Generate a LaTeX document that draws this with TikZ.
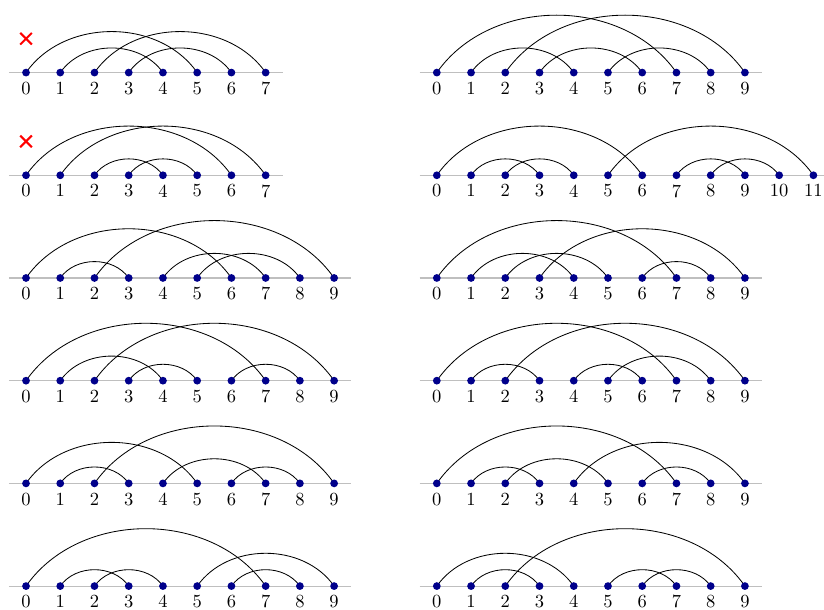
\documentclass[tikz,border=0pt]{standalone}
\usepackage{tikz}
\usetikzlibrary{calc}

\definecolor{dotblue}{RGB}{0,0,139}

\tikzset{
  baseline line/.style={black!25,line width=0.6pt},
  chord/.style={black,line width=0.45pt},
  dot/.style={circle,fill=dotblue,inner sep=0pt,minimum size=4.2pt},
  num/.style={below=1.5pt},
  cross/.style={red,line width=1.1pt}
}

% #1 = shift, #2 = last point, #3 = list of pairs a/b
\newcommand{\arcdiag}[3]{%
  \begin{scope}[shift={#1}]
    \foreach \k in {0,...,#2} \coordinate (p\k) at (\k,0);
    \coordinate (west) at (-0.5,0);
    \coordinate (east) at (#2+0.5,0);
    \draw[baseline line] (west) -- (east);
    \foreach \a/\b in {#3}
      \draw[chord] (p\a) to[out=55,in=125] (p\b);
    \foreach \k in {0,...,#2} {
      \node[dot] (v\k) at (p\k) {};
      \node[num] (l\k) at (p\k) {\k};
    }
  \end{scope}}

\begin{document}
\begin{tikzpicture}[x=0.65cm,y=0.65cm]
  \useasboundingbox (-0.76,-15.69) rectangle (23.31,2.12);

  % left column
  \arcdiag{(0,0)}{7}{0/5,1/4,2/7,3/6}
  \arcdiag{(0,-3)}{7}{0/6,1/7,2/4,3/5}
  \arcdiag{(0,-6)}{9}{0/6,1/3,2/9,4/7,5/8}
  \arcdiag{(0,-9)}{9}{0/7,1/4,2/9,3/5,6/8}
  \arcdiag{(0,-12)}{9}{0/5,1/3,2/9,4/7,6/8}
  \arcdiag{(0,-15)}{9}{0/7,1/3,2/4,5/9,6/8}

  % right column
  \arcdiag{(12,0)}{9}{0/7,1/4,2/9,3/6,5/8}
  \arcdiag{(12,-3)}{11}{0/6,1/3,2/4,5/11,7/9,8/10}
  \arcdiag{(12,-6)}{9}{0/7,1/4,2/5,3/9,6/8}
  \arcdiag{(12,-9)}{9}{0/7,1/3,2/9,4/6,5/8}
  \arcdiag{(12,-12)}{9}{0/7,1/3,2/5,4/9,6/8}
  \arcdiag{(12,-15)}{9}{0/4,1/3,2/9,5/7,6/8}

  % rejected ones
  \foreach \y in {0,-3} {
    \draw[cross] (-0.17,\y+0.82) -- (0.17,\y+1.16);
    \draw[cross] (-0.17,\y+1.16) -- (0.17,\y+0.82);
  }
\end{tikzpicture}
\end{document}
